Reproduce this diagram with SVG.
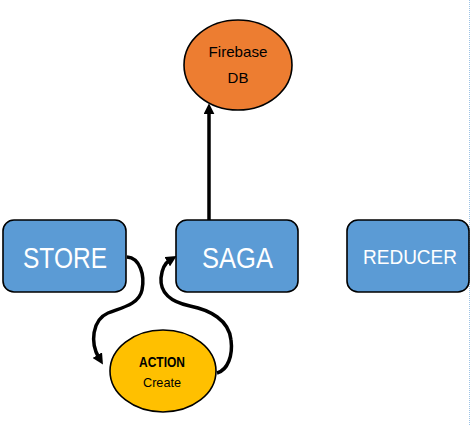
<svg xmlns="http://www.w3.org/2000/svg" width="472" height="425" viewBox="0 0 472 425">
<style>
.box{fill:#5B9BD5;stroke:#000;stroke-width:1.6}
.lbl{font-family:"Liberation Sans",Arial,sans-serif;fill:#fff;text-anchor:middle}
.dark{font-family:"Liberation Sans",Arial,sans-serif;fill:#000;text-anchor:middle}
.conn{fill:none;stroke:#000;stroke-width:3.5}
</style>
<defs>
<marker id="ah" markerUnits="userSpaceOnUse" markerWidth="11" markerHeight="11" viewBox="0 0 10 10" refX="3" refY="5" orient="auto">
<path d="M0,0 L10,5 L0,10 z" fill="#000"/>
</marker>
</defs>
<rect width="472" height="425" fill="#fff"/>
<line x1="469.5" y1="0" x2="469.5" y2="425" stroke="#9DC3E6" stroke-width="1" stroke-dasharray="1 1"/>
<g id="connectors">
<line class="conn" x1="209" y1="220" x2="209" y2="111" marker-end="url(#ah)"/>
<path class="conn" d="M127,257 C140,258 145,275 142,290 C139,305 120,308 108,313 C92,320 90,343 99,358" marker-end="url(#ah)"/>
<path class="conn" d="M217,373 C228,370 233,355 231,340 C229,320 210,310 190,306 C170,302 160,292 161,278 C162,268 165,263 170,260" marker-end="url(#ah)"/>
</g>
<g id="firebase">
<ellipse cx="238" cy="65" rx="54" ry="45" fill="#ED7D31" stroke="#000" stroke-width="1.6"/>
<text class="dark" x="238" y="57" font-size="15" textLength="59" lengthAdjust="spacingAndGlyphs">Firebase</text>
<text class="dark" x="238" y="83" font-size="15">DB</text>
</g>
<g id="store">
<rect class="box" x="3" y="220" width="123" height="72" rx="11"/>
<text class="lbl" x="65" y="268" font-size="29" textLength="84" lengthAdjust="spacingAndGlyphs">STORE</text>
</g>
<g id="saga">
<rect class="box" x="176" y="220" width="122" height="72" rx="11"/>
<text class="lbl" x="237.5" y="268" font-size="29" textLength="71" lengthAdjust="spacingAndGlyphs">SAGA</text>
</g>
<g id="reducer">
<rect class="box" x="347" y="220" width="122" height="72" rx="11"/>
<text class="lbl" x="410" y="264" font-size="21" textLength="94" lengthAdjust="spacingAndGlyphs">REDUCER</text>
</g>
<g id="action">
<ellipse cx="163" cy="371" rx="53" ry="41" fill="#FFC000" stroke="#000" stroke-width="1.6"/>
<text class="dark" x="162" y="367" font-size="14" font-weight="bold" textLength="46" lengthAdjust="spacingAndGlyphs">ACTION</text>
<text class="dark" x="162" y="387" font-size="13" textLength="38" lengthAdjust="spacingAndGlyphs">Create</text>
</g>
</svg>
